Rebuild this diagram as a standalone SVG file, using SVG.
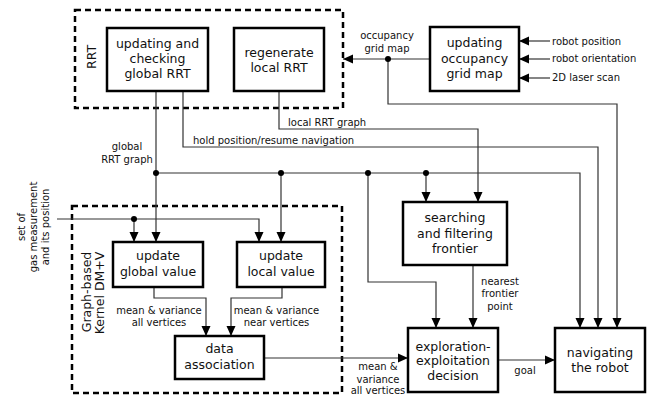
<svg xmlns="http://www.w3.org/2000/svg" width="652" height="396" viewBox="0 0 652 396">
<style>
.box{fill:#fff;stroke:#000;stroke-width:2.5}
.grp{fill:none;stroke:#000;stroke-width:2.5;stroke-dasharray:6,4}
.bt{font-family:"DejaVu Sans",sans-serif;font-size:12.5px;fill:#111;text-anchor:middle}
.lb{font-family:"DejaVu Sans",sans-serif;font-size:10px;fill:#111}
.c{text-anchor:middle}
.ln{fill:none;stroke:#333;stroke-width:1.2}
.arr{marker-end:url(#ah)}
.dot{fill:#000}
</style>
<defs>
<marker id="ah" markerUnits="userSpaceOnUse" markerWidth="10" markerHeight="10" viewBox="0 0 10 10" refX="10" refY="5" orient="auto">
<path d="M0,0.5 L10,5 L0,9.5 Z" fill="#000"/>
</marker>
</defs>
<rect class="grp" x="75" y="10" width="268" height="98"/>
<text class="bt" transform="translate(96,57) rotate(-90)">RRT</text>
<rect class="grp" x="72" y="206" width="270" height="187"/>
<text class="bt" transform="translate(91,292) rotate(-90)">Graph-based</text>
<text class="bt" transform="translate(104,293) rotate(-90)">Kernel DM+V</text>
<g id="connectors">
<path class="ln arr" d="M430,59 H343"/>
<path class="ln arr" d="M388,59 V104 H617 V328"/>
<path class="ln arr" d="M550,41 H519"/>
<path class="ln arr" d="M550,59 H519"/>
<path class="ln arr" d="M550,78 H519"/>
<path class="ln arr" d="M279,91 V129 H478 V202"/>
<path class="ln arr" d="M183,91 V147 H598 V328"/>
<path class="ln arr" d="M156,91 V242"/>
<path class="ln arr" d="M156,173 H580 V328"/>
<path class="ln arr" d="M281,173 V242"/>
<path class="ln arr" d="M426,173 V202"/>
<path class="ln arr" d="M368,173 V282 H436 V328"/>
<path class="ln arr" d="M57,219 H259 V242"/>
<path class="ln arr" d="M134,219 V242"/>
<path class="ln arr" d="M154,287 V298 H206 V336"/>
<path class="ln arr" d="M282,287 V298 H231 V336"/>
<path class="ln arr" d="M264,358 H408"/>
<path class="ln arr" d="M473,265 V328"/>
<path class="ln arr" d="M498,360 H555"/>
<circle class="dot" cx="388" cy="59" r="3"/>
<circle class="dot" cx="156" cy="173" r="3"/>
<circle class="dot" cx="281" cy="173" r="3"/>
<circle class="dot" cx="368" cy="173" r="3"/>
<circle class="dot" cx="426" cy="173" r="3"/>
<circle class="dot" cx="134" cy="219" r="3"/>
<text class="lb c" x="387" y="38.5">occupancy</text>
<text class="lb c" x="387" y="51.5">grid map</text>
<text class="lb" x="552" y="44.5">robot position</text>
<text class="lb" x="552" y="62">robot orientation</text>
<text class="lb" x="552" y="81">2D laser scan</text>
<text class="lb" x="288" y="126">local RRT graph</text>
<text class="lb" x="193" y="143.5">hold position/resume navigation</text>
<text class="lb c" x="127" y="149.5">global</text>
<text class="lb c" x="127" y="162.5">RRT graph</text>
<text class="lb c" transform="translate(25,227) rotate(-90)">set of</text>
<text class="lb c" transform="translate(37,227) rotate(-90)">gas measurement</text>
<text class="lb c" transform="translate(49,227) rotate(-90)">and its position</text>
<text class="lb c" x="159" y="313.5">mean &amp; variance</text>
<text class="lb c" x="159" y="326">all vertices</text>
<text class="lb c" x="276.5" y="313.5">mean &amp; variance</text>
<text class="lb c" x="276.5" y="326">near vertices</text>
<text class="lb c" x="500" y="284.5">nearest</text>
<text class="lb c" x="500" y="297">frontier</text>
<text class="lb c" x="500" y="309.5">point</text>
<text class="lb c" x="378" y="370">mean &amp;</text>
<text class="lb c" x="378" y="382.5">variance</text>
<text class="lb c" x="378" y="394">all vertices</text>
<text class="lb c" x="525" y="373.5">goal</text>
</g>
<g id="global-rrt">
<rect class="box" x="107" y="28" width="101" height="63"/>
<text class="bt" x="157.5" y="48">updating and</text>
<text class="bt" x="157.5" y="63">checking</text>
<text class="bt" x="157.5" y="78">global RRT</text>
</g>
<g id="local-rrt">
<rect class="box" x="234" y="28" width="90" height="63"/>
<text class="bt" x="279" y="57">regenerate</text>
<text class="bt" x="279" y="72">local RRT</text>
</g>
<g id="occupancy">
<rect class="box" x="430" y="27" width="89" height="64"/>
<text class="bt" x="474.5" y="47">updating</text>
<text class="bt" x="474.5" y="62.5">occupancy</text>
<text class="bt" x="474.5" y="78">grid map</text>
</g>
<g id="frontier">
<rect class="box" x="403" y="202" width="104" height="63"/>
<text class="bt" x="455" y="222">searching</text>
<text class="bt" x="455" y="238">and filtering</text>
<text class="bt" x="455" y="253">frontier</text>
</g>
<g id="update-global">
<rect class="box" x="113" y="242" width="90" height="45"/>
<text class="bt" x="158" y="260">update</text>
<text class="bt" x="158" y="276">global value</text>
</g>
<g id="update-local">
<rect class="box" x="237" y="242" width="88" height="45"/>
<text class="bt" x="281" y="260">update</text>
<text class="bt" x="281" y="276">local value</text>
</g>
<g id="data-association">
<rect class="box" x="175" y="336" width="89" height="43"/>
<text class="bt" x="219.5" y="353">data</text>
<text class="bt" x="219.5" y="369">association</text>
</g>
<g id="decision">
<rect class="box" x="408" y="328" width="90" height="64"/>
<text class="bt" x="453" y="351">exploration-</text>
<text class="bt" x="453" y="365">exploitation</text>
<text class="bt" x="453" y="379.5">decision</text>
</g>
<g id="navigating">
<rect class="box" x="555" y="328" width="90" height="64"/>
<text class="bt" x="600" y="357">navigating</text>
<text class="bt" x="600" y="372">the robot</text>
</g>
</svg>
